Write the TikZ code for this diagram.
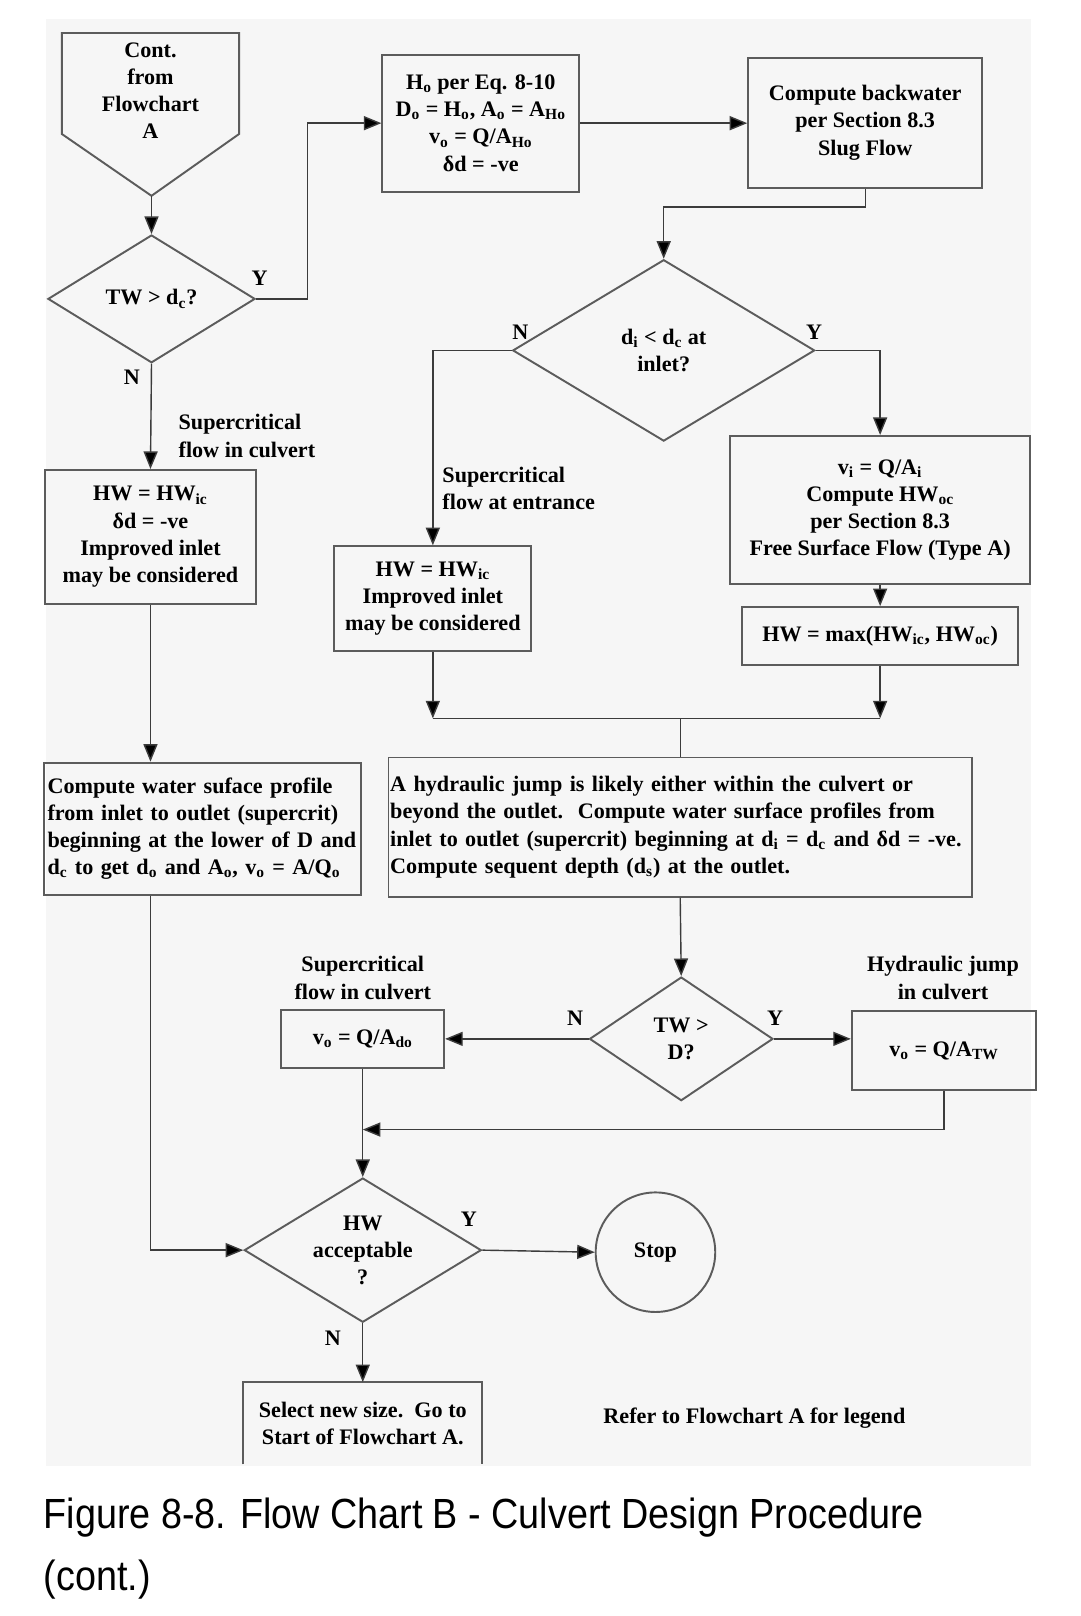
\documentclass[tikz,border=0pt]{standalone}
\usepackage{fontspec}
\setmainfont{Liberation Serif}
\newfontfamily\capfont[FakeStretch=0.895]{Liberation Sans}
\usetikzlibrary{arrows.meta,shapes.geometric}
\definecolor{fcline}{HTML}{3C3C3C}
\definecolor{fcbox}{HTML}{5C5C5C}
\definecolor{fcback}{HTML}{F6F6F6}
\newcommand{\sbs}[1]{\textsubscript{#1}}
\newcommand{\upx}{0.02061cm}
\tikzset{
  fcfont/.style={font=\fontsize{12.6}{15.5}\selectfont\bfseries},
  boxline/.style={draw=fcbox, line width=1.1pt},
  procbox/.style 2 args={boxline, fcfont, align=center, inner sep=2pt,
    minimum width=#1*\upx, minimum height=#2*\upx},
  decision/.style n args={3}{diamond, boxline, fcfont, align=center, inner sep=0pt,
    aspect=#3, minimum width=#1*\upx, minimum height=#2*\upx},
  flow/.style={draw=fcline, line width=0.8pt, -{Triangle[length=10pt,width=8pt,fill=black]}},
  link/.style={draw=fcline, line width=0.8pt},
  tag/.style={fcfont, inner sep=0pt}
}

\begin{document}
\begin{tikzpicture}[x=\upx, y=-\upx, line join=miter]
  \useasboundingbox (0,0) rectangle (1048,1568);
  \fill[white] (0,0) rectangle (1048,1568);
  \fill[fcback] (45,18) rectangle (1000,1422);
  % start
  \draw[boxline] (60,32) -- (232,32) -- (232,130) -- (147,190) -- (60,130) -- cycle;
  \coordinate (conttip) at (147,190);
  \node[tag, align=center] (cont) at (146,88) {Cont.\\from\\Flowchart\\A};
  % top row
  \node[decision={201}{124}{1.62}] (twdc) at (147,290) {TW > d\sbs{c}?};
  \node[procbox={191}{133}] (hoeq) at (466.5,119.5) {H\sbs{o} per Eq. 8-10\\D\sbs{o} = H\sbs{o}, A\sbs{o} = A\sbs{Ho}\\v\sbs{o} = Q/A\sbs{Ho}\\δd = -ve};
  \node[procbox={227}{126}] (backwater) at (839.5,119) {Compute backwater\\per Section 8.3\\Slug Flow};
  \node[decision={293}{176}{1.66}] (dinlet) at (644,340) {d\sbs{i} < d\sbs{c} at\\inlet?};
  % inlet control
  \node[procbox={204}{130}] (hwic) at (146,521) {HW = HW\sbs{ic}\\δd = -ve\\Improved inlet\\may be considered};
  \node[procbox={191}{102}] (hwicent) at (420,581) {HW = HW\sbs{ic}\\Improved inlet\\may be considered};
  \node[procbox={291}{144}] (vicomp) at (854,495) {v\sbs{i} = Q/A\sbs{i}\\Compute HW\sbs{oc}\\per Section 8.3\\Free Surface Flow (Type A)};
  \node[procbox={268}{56}] (hwmax) at (854,617) {HW = max(HW\sbs{ic}, HW\sbs{oc})};
  \coordinate (merge) at (660,697);
  % profiles
  \node[procbox={307}{128}, align=left, text width=6.2cm] (wsprof) at (196.5,804) {Compute water suface profile\\from inlet to outlet (supercrit)\\beginning at the lower of D and\\d\sbs{c} to get d\sbs{o} and A\sbs{o}, v\sbs{o} = A/Q\sbs{o}};
  \node[procbox={560}{135}, align=left, inner sep=1pt, text width=11.6cm] (jump) at (660,802.5) {A hydraulic jump is likely either within the culvert or\\beyond the outlet.\ \ Compute water surface profiles from\\inlet to outlet (supercrit) beginning at d\sbs{i} = d\sbs{c} and δd = \mbox{-ve.}\\Compute sequent depth (d\sbs{s}) at the outlet.};
  \node[decision={178}{120}{1.48}] (twd) at (661,1008) {TW >\\D?};
  \node[procbox={158}{56}] (vodo) at (352,1008) {v\sbs{o} = Q/A\sbs{do}};
  \node[procbox={179}{77}] (votw) at (916,1019.5) {v\sbs{o} = Q/A\sbs{TW}};
  \coordinate (backjoin) at (352,1096);
  % check
  \node[decision={230}{140}{1.64}] (hwok) at (352,1213) {HW\\acceptable\\?};
  \node[circle, boxline, fcfont, inner sep=0pt, minimum size=116*\upx] (stop) at (636,1215) {Stop};
  \node[procbox={230}{78}, draw=none] (newsize) at (352,1381) {Select new size.\ \ Go to\\Start of Flowchart A.};
  \draw[boxline] (newsize.south west) -- (newsize.north west) -- (newsize.north east) -- (newsize.south east);
  \node[tag] (legend) at (732,1376) {Refer to Flowchart A for legend};
  % notes
  \node[tag, align=left, anchor=west] (supcul) at (173,423) {Supercritical\\flow in culvert};
  \node[tag, align=left, anchor=west] (supent) at (429,474) {Supercritical\\flow at entrance};
  \node[tag, align=center] (supdo) at (352,949) {Supercritical\\flow in culvert};
  \node[tag, align=center] (hjump) at (915,949) {Hydraulic jump\\in culvert};
  \node[tag] (ytwdc) at (252,270) {Y};
  \node[tag] (ntwdc) at (128,366) {N};
  \node[tag] (ndin) at (505,322) {N};
  \node[tag] (ydin) at (790,322) {Y};
  \node[tag] (ntwd) at (558,988) {N};
  \node[tag] (ytwd) at (752,988) {Y};
  \node[tag] (yok) at (455,1183) {Y};
  \node[tag] (nok) at (323,1298) {N};
  % connectors
  \draw[flow] (conttip) -- (twdc.north);
  \draw[flow] (twdc.east) -- ++(50,0) |- (hoeq.west);
  \draw[flow] (hoeq.east) -- (backwater.west |- hoeq.east);
  \draw[flow] (backwater.south) -- ++(0,18) -| (dinlet.north);
  \draw[flow] (twdc.south) -- (hwic.north);
  \draw[flow] (dinlet.west) -| (hwicent.north);
  \draw[flow] (dinlet.east) -| (vicomp.north);
  \draw[flow] (vicomp.south) -- (hwmax.north);
  \draw[flow] (hwicent.south) -- (hwicent.south |- merge);
  \draw[flow] (hwmax.south) -- (hwmax.south |- merge);
  \draw[link] (hwicent.south |- merge) -- (hwmax.south |- merge);
  \draw[link] (merge) -- (jump.north);
  \draw[flow] (hwic.south) -- (hwic.south |- wsprof.north);
  \draw[flow] (jump.south) -- (twd.north);
  \draw[flow] (twd.west) -- (vodo.east);
  \draw[flow] (twd.east) -- (twd.east -| votw.west);
  \draw[flow] (votw.south) |- (backjoin);
  \draw[flow] (vodo.south) -- (hwok.north);
  \draw[flow] (hwic.south |- wsprof.south) |- (hwok.west);
  \draw[flow] (hwok.east) -- (stop.west);
  \draw[flow] (hwok.south) -- (newsize.north);
  % caption
  \node[anchor=base west, inner sep=0pt, font=\capfont\fontsize{24}{30}\selectfont] (captop) at (42,1483) {Figure 8-8. Flow Chart B - Culvert Design Procedure};
  \node[anchor=base west, inner sep=0pt, font=\capfont\fontsize{24}{30}\selectfont] (capbot) at (42,1543) {(cont.)};
\end{tikzpicture}
\end{document}
